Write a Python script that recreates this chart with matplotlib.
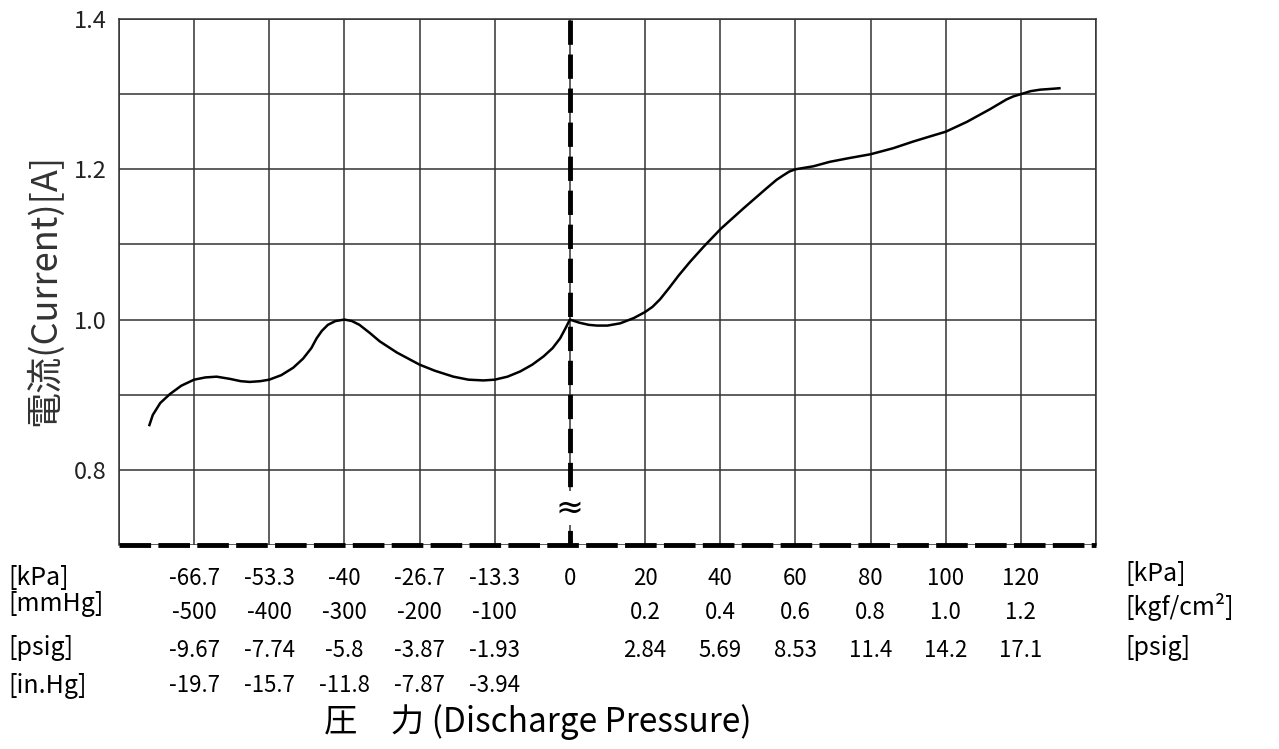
import matplotlib
matplotlib.use("Agg")
import matplotlib.pyplot as plt
from matplotlib import font_manager

# 曲線 (x はグリッドの列位置 0..13, 6 が 0 kPa)
curve_x = [0.40, 0.45, 0.55, 0.68, 0.83, 1.00, 1.15, 1.30, 1.48, 1.62, 1.74, 1.88, 2.00,
           2.16, 2.32, 2.45, 2.56, 2.63, 2.70, 2.78, 2.88, 3.00, 3.10, 3.20, 3.34, 3.47,
           3.70, 4.00, 4.20, 4.45, 4.65, 4.85, 5.00, 5.17, 5.34, 5.50, 5.65, 5.77, 5.87,
           5.95, 6.00,
           6.12, 6.25, 6.36, 6.50, 6.67, 6.85, 7.00, 7.10, 7.20, 7.32, 7.45, 7.60, 7.78,
           8.01, 8.31, 8.62, 8.75, 8.84, 8.92, 9.00, 9.12, 9.24, 9.46, 9.72, 10.00, 10.30,
           10.57, 10.80, 11.00, 11.28, 11.59, 11.81, 11.90, 12.00, 12.13, 12.26, 12.40, 12.53]
curve_y = [0.858, 0.873, 0.889, 0.901, 0.912, 0.920, 0.923, 0.924, 0.921, 0.918, 0.917, 0.918, 0.920,
           0.926, 0.936, 0.948, 0.962, 0.975, 0.985, 0.993, 0.998, 1.000, 0.998, 0.993, 0.982, 0.971,
           0.956, 0.940, 0.932, 0.924, 0.920, 0.919, 0.920, 0.924, 0.931, 0.940, 0.951, 0.962, 0.975,
           0.990, 1.000,
           0.996, 0.993, 0.992, 0.992, 0.995, 1.002, 1.010, 1.017, 1.027, 1.042, 1.059, 1.077, 1.097,
           1.121, 1.148, 1.175, 1.186, 1.192, 1.197, 1.200, 1.202, 1.204, 1.210, 1.215, 1.220, 1.228,
           1.237, 1.244, 1.250, 1.263, 1.280, 1.293, 1.297, 1.300, 1.304, 1.306, 1.307, 1.308]

# 目盛ラベル
neg_pos = [1, 2, 3, 4, 5]
pos_pos = [7, 8, 9, 10, 11, 12]
kpa_pos = neg_pos + [6] + pos_pos
kpa_labels = ['-66.7', '-53.3', '-40', '-26.7', '-13.3', '0', '20', '40', '60', '80', '100', '120']
mmhg_labels = ['-500', '-400', '-300', '-200', '-100']
kgf_labels = ['0.2', '0.4', '0.6', '0.8', '1.0', '1.2']
psig_neg_labels = ['-9.67', '-7.74', '-5.8', '-3.87', '-1.93']
psig_pos_labels = ['2.84', '5.69', '8.53', '11.4', '14.2', '17.1']
inhg_labels = ['-19.7', '-15.7', '-11.8', '-7.87', '-3.94']
y_ticks = [0.7, 0.8, 0.9, 1.0, 1.1, 1.2, 1.3, 1.4]
y_labels = ['', '0.8', '', '1.0', '', '1.2', '', '1.4']

names = {f.name for f in font_manager.fontManager.ttflist}
main = 'Noto Sans Mono CJK JP' if 'Noto Sans Mono CJK JP' in names else 'Noto Sans CJK JP'
FONT = [main, 'Noto Sans CJK JP', 'DejaVu Sans']
plt.rcParams['font.family'] = FONT

fig = plt.figure(figsize=(12.79, 7.49), dpi=100)
ax = fig.add_axes([0.0930, 0.2724, 0.7639, 0.7022])
ax.set_xlim(0, 13)
ax.set_ylim(0.7, 1.4)

ax.set_xticks(range(14))
ax.set_xticklabels([])
ax.set_yticks(y_ticks)
ax.set_yticklabels(y_labels, fontsize=17, color='#222222')
ax.tick_params(length=0, pad=9)
ax.grid(True, color='#333333', linewidth=1.1)
ax.set_axisbelow(True)
for s in ['top', 'left', 'right']:
    ax.spines[s].set_color('#333333')
    ax.spines[s].set_linewidth(1.1)
ax.spines['bottom'].set_visible(False)

ax.plot(curve_x, curve_y, color='black', linewidth=1.8, zorder=3,
        solid_joinstyle='round', solid_capstyle='butt')

# 0 kPa の破線と下端の破線
ax.axvline(6, color='black', linewidth=3.5, linestyle=(2, (5, 2)), zorder=4)
ax.axhline(0.7, color='black', linewidth=3.5, linestyle=(0, (6.5, 1.5)), clip_on=False, zorder=5)
ax.text(6, 0.749, '≈', ha='center', va='center', fontsize=24, family='DejaVu Sans',
        bbox=dict(facecolor='white', edgecolor='none', pad=0.3), zorder=6)

tr = ax.get_xaxis_transform()
rows = {'kpa': -0.063, 'mm': -0.129, 'psig': -0.200, 'inhg': -0.268}
fs = 16
for x, t in zip(kpa_pos, kpa_labels):
    ax.text(x, rows['kpa'], t, transform=tr, ha='center', va='center', fontsize=fs)
for x, t in zip(neg_pos, mmhg_labels):
    ax.text(x, rows['mm'], t, transform=tr, ha='center', va='center', fontsize=fs)
for x, t in zip(pos_pos, kgf_labels):
    ax.text(x, rows['mm'], t, transform=tr, ha='center', va='center', fontsize=fs)
for x, t in zip(neg_pos, psig_neg_labels):
    ax.text(x, rows['psig'], t, transform=tr, ha='center', va='center', fontsize=fs)
for x, t in zip(pos_pos, psig_pos_labels):
    ax.text(x, rows['psig'], t, transform=tr, ha='center', va='center', fontsize=fs)
for x, t in zip(neg_pos, inhg_labels):
    ax.text(x, rows['inhg'], t, transform=tr, ha='center', va='center', fontsize=fs)

# 単位ラベル
lx = 8 / 1279
for y, t in [(578, '[kPa]'), (604, '[mmHg]'), (648, '[psig]'), (686, '[in.Hg]')]:
    fig.text(lx, 1 - y / 749, t, ha='left', va='center', fontsize=18)
rx = 1125 / 1279
for y, t in [(574, '[kPa]'), (607, '[kgf/cm²]'), (648, '[psig]')]:
    fig.text(rx, 1 - y / 749, t, ha='left', va='center', fontsize=18)

fig.text(45 / 1279, 1 - 290 / 749, '電流(Current)[A]', rotation=90,
         ha='center', va='center', fontsize=26, color='#333333')
fig.text(538 / 1279, 1 - 722 / 749, '圧\u3000力 (Discharge Pressure)',
         ha='center', va='center', fontsize=24)

fig.savefig('out.png', dpi=100)
